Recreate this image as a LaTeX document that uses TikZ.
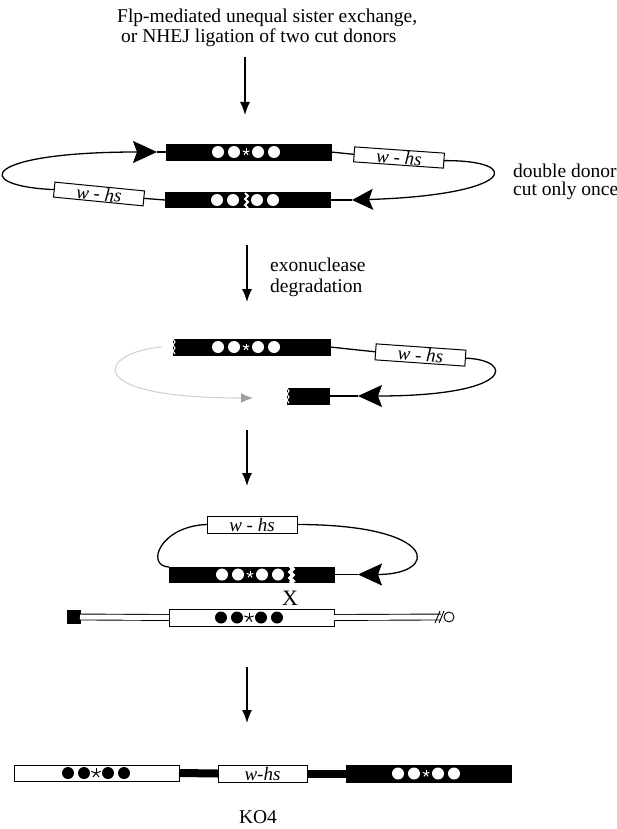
\documentclass[tikz,border=0pt]{standalone}
\usepackage{fontspec}
\setmainfont{Liberation Serif}
\usetikzlibrary{arrows.meta}
\newcommand{\beadrow}[5]{%
  \foreach \dx in {0,16,40,56} {\fill[#3] (#1+\dx,#2) circle (6pt);}
  \foreach \a in {90,162,234,306,18} {\draw[#4,line width=1pt] (#1+28,#2) -- ++(\a:#5);}
}
\begin{document}
\begin{tikzpicture}[x=1pt,y=-1pt,
  bar/.style={rectangle,fill=black,draw=black,line width=0.6pt,inner sep=0pt,outer sep=0pt,minimum height=16pt},
  wbox/.style={rectangle,fill=white,draw=black,line width=1pt,inner sep=0pt,outer sep=0pt,minimum height=15pt,minimum width=90pt,font=\fontsize{19}{19}\selectfont\itshape},
  loopline/.style={line width=1.3pt},
  bighead/.style={-{Stealth[length=24pt,width=22pt,inset=4pt]}},
  downarrow/.style={line width=1.4pt,-{Latex[length=13pt,width=10pt]}},
  lbl/.style={font=\fontsize{19.5}{22}\selectfont,inner sep=0pt},
  jag/.style={white,line width=1pt},
]
\useasboundingbox (0,0) rectangle (617,829);

% ---------- top text and first arrow
\node[lbl,anchor=base west] (t1) at (117,23) {Flp-mediated unequal sister exchange,};
\node[lbl,anchor=base west] (t2) at (121,43) {or NHEJ ligation of two cut donors};
\coordinate (a1s) at (245,57);
\coordinate (a1e) at (245,115);
\draw[downarrow] (a1s) -- (a1e);

% ---------- loop 1
\node[bar,minimum width=165pt] (b1t) at (248.5,152) {};
\node[bar,minimum width=165pt,minimum height=15pt] (b1b) at (247.5,200) {};
\node[wbox,rotate=-4] (wR1) at (399,157.5) {w - hs};
\node[wbox,rotate=-5.6] (wL1) at (99,194) {w - hs};
\beadrow{218}{152}{white}{white}{3.5pt}
\beadrow{217}{200}{white}{black}{0pt}
\draw[white,line width=2pt] (245,193) -- (248,196) -- (245,199) -- (248,202) -- (245,205) -- (248,208);
\coordinate (tipL1) at (157,152);
\coordinate (tipR1) at (352,200);
\draw[loopline,bighead] (wL1.west) .. controls (-30,186) and (-19,152) .. (tipL1);
\draw[loopline] (tipL1) -- (b1t.west);
\draw[loopline] (b1t.east) -- (wR1.west);
\draw[loopline,-{Stealth[length=21pt,width=21pt,inset=4pt]}] (wR1.east) .. controls (525,160) and (515,195) .. (tipR1);
\draw[loopline] (tipR1) -- (b1b.east);
\draw[loopline] (wL1.east) -- (b1b.west);
\node[lbl,anchor=base west] (dd1) at (513,178) {double donor};
\node[lbl,anchor=base west] (dd2) at (513,196) {cut only once};

% ---------- arrow 2
\coordinate (a2s) at (247,245);
\coordinate (a2e) at (247,302);
\draw[downarrow] (a2s) -- (a2e);
\node[lbl,anchor=base west] (ex1) at (270,271) {exonuclease};
\node[lbl,anchor=base west] (ex2) at (270,292) {degradation};

% ---------- loop 3
\node[bar,minimum width=157pt] (b3t) at (251.5,347) {};
\node[bar,minimum width=42pt] (sb3) at (308,396) {};
\node[wbox,rotate=-4,minimum height=16pt] (wR3) at (420.5,355) {w - hs};
\beadrow{218}{347}{white}{white}{3.5pt}
\draw[jag] (173,339) -- (175,342) -- (173,345) -- (175,348) -- (173,351) -- (175,354);
\draw[jag] (287,388) -- (289,391) -- (287,394) -- (289,397) -- (287,400) -- (289,403);
\draw[loopline] (b3t.east) -- (wR3.west);
\coordinate (tipR3) at (358,396);
\draw[loopline,bighead] (wR3.east) .. controls (515,360) and (515,396) .. (tipR3);
\draw[loopline] (tipR3) -- (sb3.east);
\coordinate (gs) at (162,347);
\coordinate (ge) at (253,398);
\draw[gray!35,line width=1.1pt,-{Latex[length=12pt,width=10pt,color=gray!75]}] (gs) .. controls (100,352) and (76,398) .. (ge);

% ---------- arrow 3
\coordinate (a3s) at (247,430);
\coordinate (a3e) at (247,486);
\draw[downarrow] (a3s) -- (a3e);

% ---------- loop 4
\node[wbox,minimum height=17pt] (wT4) at (252,524.5) {w - hs};
\node[bar,minimum width=165pt,minimum height=15pt] (b4) at (251.5,574.5) {};
\beadrow{222}{574.5}{white}{white}{3.5pt}
\draw[white,line width=3.5pt] (290,566) -- (293,569) -- (290,572) -- (293,575) -- (290,578) -- (293,581) -- (290,583);
\coordinate (tipR4) at (358,574.5);
\draw[loopline,bighead] (wT4.east) .. controls (440,524.5) and (440,574.5) .. (tipR4);
\draw[loopline] (tipR4) -- (b4.east);
\draw[loopline] (wT4.west) .. controls (160,526) and (145,566) .. (b4.north west);
\node[font=\fontsize{22}{22}\selectfont,inner sep=0pt] (X) at (290,598) {X};

% ---------- chromosome
\node[rectangle,fill=black,draw=black,minimum size=13pt,inner sep=0pt,outer sep=0pt] (tel) at (73.5,617) {};
\node[rectangle,fill=white,draw=black,line width=1pt,minimum width=165pt,minimum height=17pt,inner sep=0pt,outer sep=0pt] (cb) at (251.5,617.5) {};
\beadrow{221}{617.5}{black}{black}{5pt}
\coordinate (cut) at (441,617);
\node[circle,draw=black,fill=white,line width=0.9pt,minimum size=10pt,inner sep=0pt] (cen) at (449,617) {};
\draw[double distance=5pt,line width=0.9pt] (tel.east) -- (cb.west);
\draw[double distance=5pt,line width=0.9pt] (cb.east) -- (cut);
\draw[line width=0.9pt] (435,623) -- (440,611) (439,623) -- (444,611);

% ---------- arrow 4
\coordinate (a4s) at (247,667);
\coordinate (a4e) at (247,723);
\draw[downarrow] (a4s) -- (a4e);

% ---------- bottom product
\node[rectangle,fill=white,draw=black,line width=1pt,minimum width=165pt,minimum height=16pt,inner sep=0pt,outer sep=0pt] (wb) at (96.5,773) {};
\node[wbox,minimum width=89pt,minimum height=17pt] (whs) at (262.5,773.5) {w-hs};
\node[bar,minimum width=165pt,minimum height=17pt] (bb) at (428.5,773.5) {};
\beadrow{68}{773}{black}{black}{5pt}
\beadrow{398}{773.5}{white}{white}{3.5pt}
\draw[line width=8pt] (wb.east) -- (whs.west);
\draw[line width=8pt] (whs.east) -- (bb.west);
\node[lbl] (ko) at (258,817) {KO4};
\end{tikzpicture}
\end{document}
